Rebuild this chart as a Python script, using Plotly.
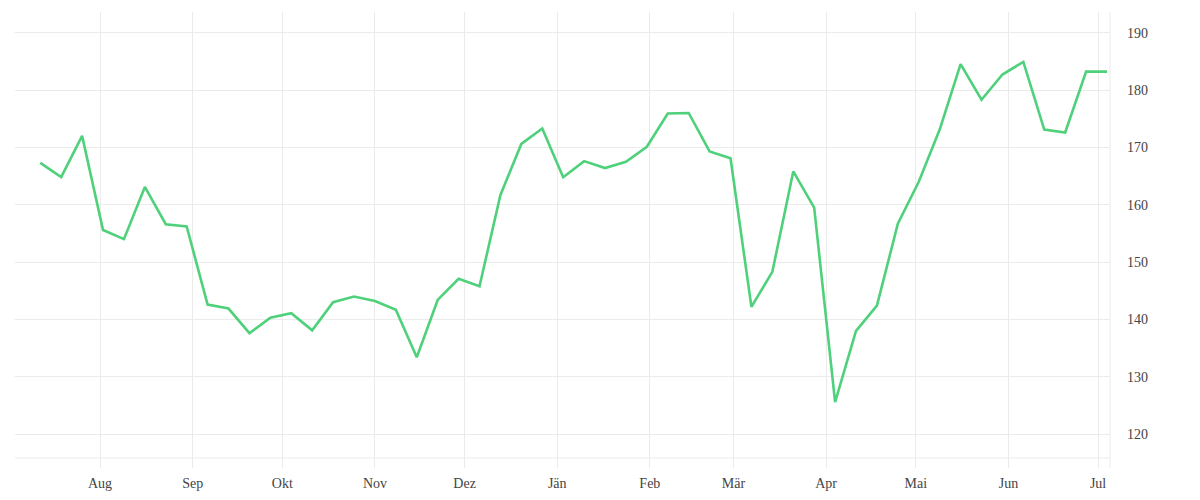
import pandas as pd
import plotly.graph_objects as go

# weekly series, mid-July 2022 to early July 2023
dates = pd.date_range("2022-07-12", periods=52, freq="7D")
values = [
    167.3, 164.8, 172.0, 155.6, 154.0, 163.1, 156.6, 156.2, 142.6, 141.9,
    137.6, 140.3, 141.1, 138.1, 143.0, 144.0, 143.2, 141.7, 133.4, 143.4,
    147.1, 145.8, 161.7, 170.6, 173.3, 164.8, 167.6, 166.4, 167.5, 170.1,
    175.9, 176.0, 169.3, 168.1, 142.2, 148.3, 165.8, 159.5, 125.6, 138.0,
    142.4, 156.7, 164.0, 173.1, 184.5, 178.3, 182.7, 184.9, 173.1, 172.6,
    183.2, 183.2,
]

month_ticks = pd.date_range("2022-08-01", "2023-07-01", freq="MS")
month_labels = ["Aug", "Sep", "Okt", "Nov", "Dez", "Jän", "Feb", "Mär", "Apr", "Mai", "Jun", "Jul"]
y_ticks = [120, 130, 140, 150, 160, 170, 180, 190]

GRID = "#ebebeb"
FONT = dict(family="Liberation Serif", size=14, color="#444444")

fig = go.Figure()
fig.add_trace(go.Scatter(
    x=dates, y=values, mode="lines",
    line=dict(color="#4ed17a", width=2.6),
    hoverinfo="x+y", showlegend=False,
))

# page body has an 8px margin, so the margins are shifted to compensate
fig.update_layout(
    width=1200, height=500,
    margin=dict(l=7, r=98, t=4, b=40),
    plot_bgcolor="white", paper_bgcolor="white",
    font=FONT,
    xaxis=dict(
        range=["2022-07-03 13:00", "2023-07-05"],
        tickvals=month_ticks, ticktext=month_labels,
        showgrid=True, gridcolor=GRID, gridwidth=1,
        zeroline=False, showline=False, ticks="",
        ticklabelstandoff=5,
    ),
    yaxis=dict(
        side="right", range=[114.1, 193.6],
        tickvals=y_ticks,
        showgrid=True, gridcolor=GRID, gridwidth=1,
        zeroline=False, showline=False, ticks="",
        ticklabelstandoff=16,
    ),
    shapes=[
        # thin base line a bit above the bottom edge and the right frame line
        dict(type="line", xref="paper", yref="paper", x0=0, x1=1, y0=0.022, y1=0.022,
             line=dict(color=GRID, width=1), layer="below"),
        dict(type="line", xref="paper", yref="paper", x0=1, x1=1, y0=0, y1=1,
             line=dict(color=GRID, width=1), layer="below"),
    ],
)

fig.write_html("out.html")
